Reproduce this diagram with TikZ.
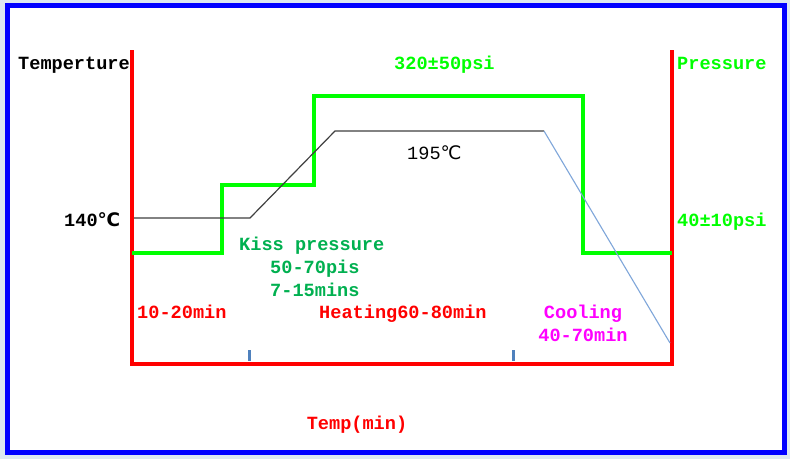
\documentclass[tikz,border=0pt]{standalone}
\usepackage{fontspec}
\setmainfont{Liberation Mono}
\newfontfamily\symfont{DejaVu Sans}
\usetikzlibrary{positioning}
\definecolor{pgreen}{HTML}{00FF00}
\definecolor{kgreen}{HTML}{00B050}
\definecolor{cmagenta}{HTML}{FF00FF}
\definecolor{tickblue}{HTML}{4F81BD}
\definecolor{coolblue}{HTML}{7FA6DA}
\definecolor{edgegray}{HTML}{DDE8F1}
\newcommand{\degc}{{\symfont ℃}}

\begin{document}
\begin{tikzpicture}[x=1pt, y=-1pt, node distance=1pt,
  lbl/.style = {inner sep=2pt, yshift=-1.5pt, font=\fontsize{18.6}{20}\selectfont\bfseries, text height=13pt, text depth=4pt},
  axis/.style = {draw=red, line width=4pt, line join=miter},
  press/.style = {draw=pgreen, line width=4pt, line join=miter},
  temp/.style = {draw=black!75, line width=1.2pt},
  cool/.style = {draw=coolblue, line width=1.1pt},
  tick/.style = {draw=tickblue, line width=3pt}]
\useasboundingbox (0,0) rectangle (790,459);
\fill[edgegray] (0,0) rectangle (790,459);
\fill[white] (7,5.5) rectangle (784,452.5);
\draw[blue, line width=5pt] (7,5.5) rectangle (784,452.5);

\coordinate (ytop) at (132,50);
\coordinate (o) at (132,364);
\coordinate (xend) at (672,364);
\coordinate (ptop) at (672,50);
\draw[axis] (ytop) -- (o) -- (xend) -- (ptop);

\foreach \x in {249,513}
  \draw[tick] (\x,350) -- (\x,361);

\coordinate (p0) at (132,253);
\coordinate (p1) at (222,253);
\coordinate (p2) at (222,185);
\coordinate (p3) at (314,185);
\coordinate (p4) at (314,96);
\coordinate (p5) at (583,96);
\coordinate (p6) at (583,253);
\coordinate (p7) at (672,253);
\draw[press] (p0) -- (p1) -- (p2) -- (p3) -- (p4) -- (p5) -- (p6) -- (p7);

\coordinate (t0) at (134,218);
\coordinate (t1) at (250,218);
\coordinate (t2) at (335,131);
\coordinate (t3) at (544,131);
\coordinate (t4) at (670,343);
\draw[temp] (t0) -- (t1) -- (t2) -- (t3);
\draw[cool] (t3) -- (t4);

\node[lbl, anchor=west] (ylabel) at (16,63) {Temperture};
\node[lbl, anchor=west] (t140) at (62,220) {140\degc};
\node[lbl, anchor=west, font=\fontsize{18.6}{20}\selectfont] (t195) at (405,153) {195\degc};
\node[lbl, pgreen, anchor=west] (phigh) at (392,63) {320±50psi};
\node[lbl, pgreen, anchor=west] (plabel) at (675,63) {Pressure};
\node[lbl, pgreen, anchor=west] (plow) at (675,220) {40±10psi};
\node[lbl, kgreen, anchor=west] (kiss) at (237,244) {Kiss pressure};
\node[lbl, kgreen, anchor=west] (kiss2) at (268,267) {50-70pis};
\node[lbl, kgreen] (kiss3) [below=of kiss2] {7-15mins};
\node[lbl, red, anchor=west] (stage1) at (135,312) {10-20min};
\node[lbl, red, anchor=west] (stage2) at (317,312) {Heating60-80min};
\node[lbl, cmagenta] (stage3) at (583,312) {Cooling};
\node[lbl, cmagenta] (stage3b) [below=of stage3] {40-70min};
\node[lbl, red] (xlabel) at (357,423) {Temp(min)};
\end{tikzpicture}
\end{document}
